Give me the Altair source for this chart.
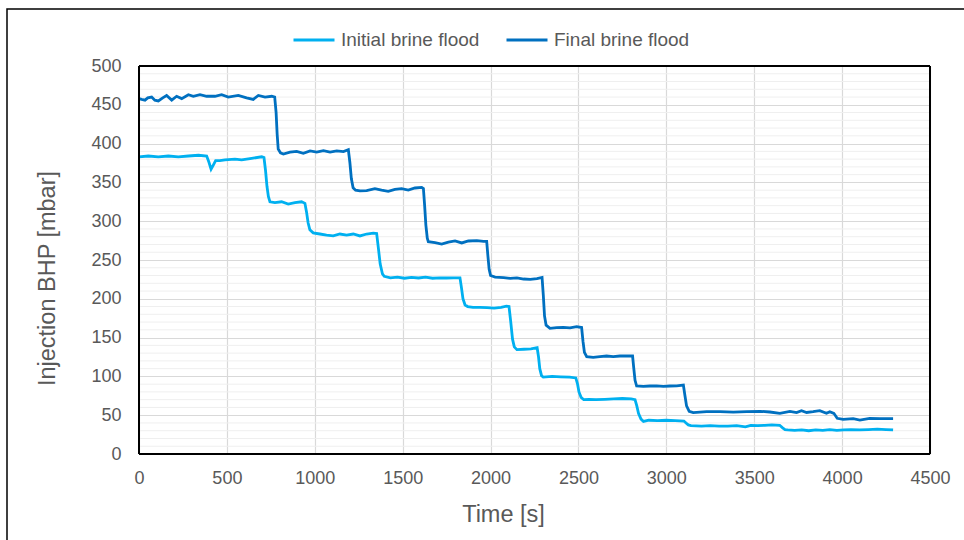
import altair as alt
import pandas as pd

# ---------------- data ----------------
series_names = ["Initial brine flood", "Final brine flood"]
series_colors = ["#00B0F0", "#0070C0"]

initial_t = [0, 53, 110, 167, 224, 281, 338, 385, 398, 410, 422, 436, 460, 489, 546, 584, 641, 698, 711,
             720, 728, 736, 745, 773, 811, 849, 887, 925, 944,
             953, 962, 972, 991, 1029, 1067, 1105, 1143, 1181, 1219, 1257, 1295, 1333, 1352,
             1362, 1372, 1385, 1395, 1430, 1470, 1510, 1550, 1590, 1630, 1670, 1710, 1750, 1790, 1826,
             1834, 1843, 1855, 1870, 1900, 1940, 1980, 2020, 2060, 2090, 2105,
             2115, 2125, 2135, 2150, 2190, 2230, 2265,
             2273, 2280, 2290, 2300, 2350, 2400, 2450, 2485,
             2495, 2503, 2515, 2530, 2560, 2600, 2650, 2700, 2750, 2800, 2822,
             2832, 2842, 2856, 2870, 2900, 2950, 3000, 3050, 3100,
             3112, 3125, 3140, 3200, 3250, 3300, 3350, 3400, 3450, 3480, 3520, 3560, 3600, 3645,
             3660, 3675, 3690, 3730, 3770, 3810, 3850, 3890, 3930, 3970, 4010, 4050, 4100, 4150, 4200, 4250, 4290]
initial_v = [383, 384, 383, 384, 383, 384, 385, 384, 376, 367, 372, 378, 378, 379, 380, 379, 381, 383, 382,
             365, 345, 332, 325, 324, 325, 322, 324, 325, 323,
             312, 298, 289, 285, 283.5, 282, 281, 283.5, 282, 283.5, 281, 283.5, 284.5, 284,
             265, 245, 232, 229, 227, 228, 226.5, 227.5, 226.8, 228, 226.5, 227, 226.8, 227, 227,
             215, 200, 192, 190, 189, 189, 188.5, 188, 189, 190.5, 190,
             170, 148, 138, 134.5, 135, 135.5, 137,
             125, 110, 101, 99, 100, 99.5, 99, 98,
             90, 80, 73, 70, 70.5, 70, 70.5, 71, 71.5, 71, 70,
             62, 52, 45, 42, 43.5, 43, 43.5, 43, 42.5,
             40, 37.5, 36.5, 36, 36.5, 36, 36, 36.5, 35, 37, 36.5, 37, 37.5, 37,
             34, 31.5, 31, 30.5, 31, 30, 31, 30.5, 31.5, 30.5, 31, 31.5, 31, 31.5, 32, 31.5, 31]

final_t = [0, 15, 34, 50, 72, 90, 110, 135, 157, 186, 214, 243, 281, 309, 347, 385, 432, 470, 508, 565, 612,
           650, 679, 717, 755, 772,
           780, 786, 792, 805, 821, 859, 897, 935, 973, 1011, 1049, 1087, 1125, 1163, 1191,
           1200, 1208, 1218, 1232, 1257, 1295, 1342, 1380, 1418, 1456, 1494, 1532, 1570, 1608, 1618,
           1625, 1632, 1640, 1646, 1684, 1722, 1760, 1798, 1836, 1874, 1922, 1960, 1978,
           1985, 1992, 2000, 2026, 2074, 2112, 2150, 2188, 2226, 2264, 2293,
           2300, 2307, 2316, 2338, 2376, 2414, 2452, 2490, 2518,
           2526, 2534, 2547, 2584, 2622, 2660, 2698, 2736, 2774, 2808,
           2815, 2822, 2831, 2869, 2907, 2945, 2983, 3021, 3059, 3097,
           3106, 3115, 3130, 3153, 3229, 3305, 3381, 3457, 3533, 3589, 3646, 3703, 3741, 3769, 3798,
           3835, 3873, 3911, 3930, 3953, 3972, 4006, 4063, 4101, 4157, 4214, 4290]
final_v = [458, 457, 456, 459, 460, 456, 455, 459, 462, 456, 461, 458, 463, 461, 463, 461, 461, 463, 460, 462, 459,
           457, 462, 460, 461, 460,
           440, 412, 393, 388, 386.6, 389, 390, 387.5, 390.5, 389, 391, 389, 390.5, 389.6, 392,
           375, 355, 343, 340, 339, 339.5, 342, 340, 338.5, 341, 342, 340, 342.8, 343.6, 342,
           320, 295, 278, 273.6, 272.3, 270.6, 273, 274.5, 272, 274.5, 275, 274, 274,
           255, 238, 230, 228, 227.3, 226.4, 227, 225.5, 225, 226, 227.5,
           205, 178, 166, 162, 162.8, 163.3, 162.5, 164.2, 163,
           145, 131, 125.4, 124.6, 125.4, 126.3, 125.4, 126.3, 126.3, 126.3,
           110, 95, 87.6, 87.2, 87.6, 87.9, 87.2, 87.6, 87.9, 88.8,
           75, 62, 55, 53.3, 54.5, 54.5, 54, 54.5, 55, 54.1, 52.4, 55, 53.3, 55.8, 53.5,
           54.5, 55.8, 52.4, 54.5, 52.4, 46, 44.7, 45.5, 43.8, 46, 45.5, 45.5]

x_ticks = [0, 500, 1000, 1500, 2000, 2500, 3000, 3500, 4000, 4500]
y_ticks = [0, 50, 100, 150, 200, 250, 300, 350, 400, 450, 500]
minor_y = [v for v in range(10, 500, 10) if v % 50 != 0]

# ---------------- tables ----------------
df = pd.concat([
    pd.DataFrame({"t": initial_t, "v": initial_v, "series": series_names[0]}),
    pd.DataFrame({"t": final_t, "v": final_v, "series": series_names[1]}),
], ignore_index=True)
minor_df = pd.DataFrame({"v": minor_y})

W, H = 791, 388
FONT = "Liberation Sans"
GREY = "#595959"

x_scale = alt.Scale(domain=[0, 4500], nice=False, zero=False)
y_scale = alt.Scale(domain=[0, 500], nice=False)

x_axis = alt.Axis(values=x_ticks, title="Time [s]", format="d", grid=True, gridColor="#d9d9d9",
                  gridWidth=1.2, domain=False, ticks=False, tickSize=0, zindex=0,
                  labelFontSize=18, labelColor=GREY, labelFont=FONT, labelPadding=15,
                  titleFontSize=23.5, titleFont=FONT, titleColor=GREY, titleFontWeight="normal",
                  titleX=364, titleY=60, titleBaseline="middle", titleAlign="center",
                  labelFlush=False)
y_axis = alt.Axis(values=y_ticks, title="Injection BHP [mbar]", format="d", grid=True, gridColor="#d9d9d9",
                  gridWidth=1.2, domain=False, ticks=False, tickSize=0, zindex=0,
                  labelFontSize=18, labelColor=GREY, labelFont=FONT, labelPadding=18,
                  titleFontSize=23.5, titleFont=FONT, titleColor=GREY, titleFontWeight="normal",
                  titleX=-92, titleY=212, titleBaseline="middle", titleAlign="center",
                  labelFlush=False)

minor = alt.Chart(minor_df).mark_rule(color="#efefef", strokeWidth=1).encode(
    y=alt.Y("v:Q", scale=y_scale, axis=y_axis)
)

lines = alt.Chart(df).mark_line(strokeWidth=2.8, interpolate="linear").encode(
    x=alt.X("t:Q", scale=x_scale, axis=x_axis),
    y=alt.Y("v:Q", scale=y_scale, axis=y_axis),
    color=alt.Color("series:N",
                    scale=alt.Scale(domain=series_names, range=series_colors),
                    sort=series_names,
                    legend=alt.Legend(title=None, orient="none", legendX=153, legendY=-48,
                                      direction="horizontal", symbolType="stroke",
                                      symbolSize=1681, symbolStrokeWidth=3, labelOffset=5,
                                      columnPadding=20, labelFontSize=19, labelColor=GREY,
                                      labelFont=FONT)),
)

# plot-area frame: four edges drawn as rules through the scales
edge_v = pd.DataFrame({"xe": [0, 4500]})
edge_h = pd.DataFrame({"ye": [0, 500]})
frame_v = alt.Chart(edge_v).mark_rule(color="#000000", strokeWidth=2).encode(
    x=alt.X("xe:Q", scale=x_scale, axis=x_axis)
)
frame_h = alt.Chart(edge_h).mark_rule(color="#000000", strokeWidth=2).encode(
    y=alt.Y("ye:Q", scale=y_scale, axis=y_axis)
)

# outer chart frame (decoration)
outer_frame = alt.Chart(pd.DataFrame({"a": [1]})).mark_rect(
    filled=False, stroke="#000000", strokeWidth=1.5
).encode(x=alt.value(-132), x2=alt.value(830), y=alt.value(-57), y2=alt.value(480))

chart = alt.layer(minor, lines, frame_v, frame_h, outer_frame).properties(
    width=W, height=H,
    background="white",
    autosize=alt.AutoSizeParams(type="none"),
    padding={"left": 139, "top": 66, "right": 34, "bottom": 86},
).configure_view(stroke=None)

chart.save("out.html", embed_options={"renderer": "svg", "actions": False})
